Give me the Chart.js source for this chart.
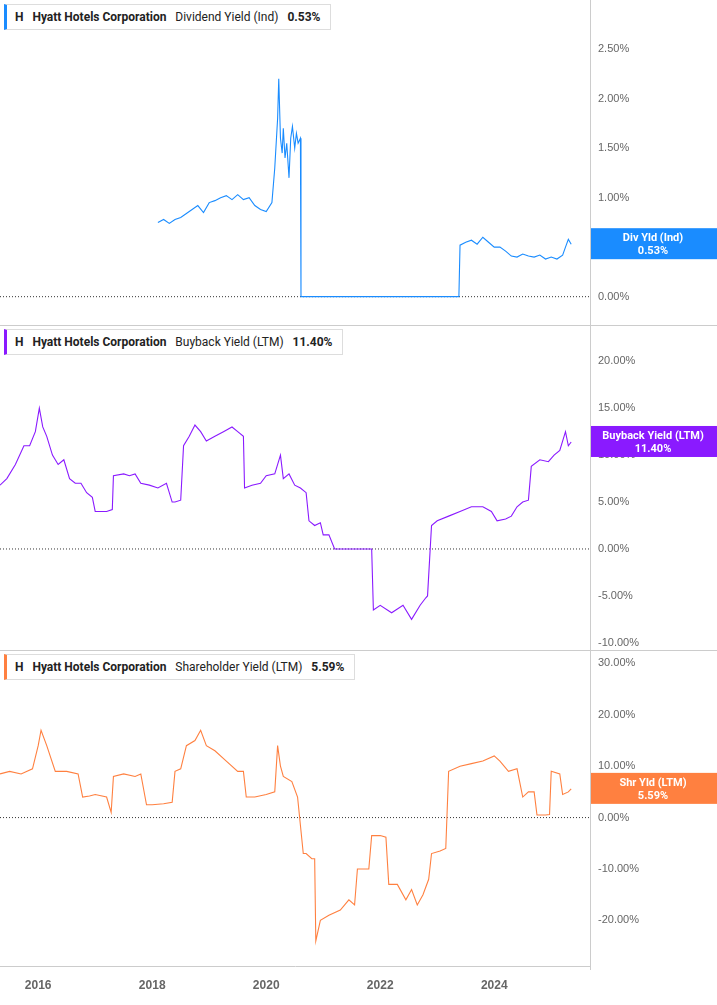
<!DOCTYPE html>
<html><head><meta charset="utf-8">
<script src="https://cdn.jsdelivr.net/npm/chart.js@4"></script>
<style>
body{margin:0;width:717px;height:1005px;background:#fff;font-family:Roboto,"Noto Sans",sans-serif;position:relative;overflow:hidden}
.p{position:absolute;left:0;width:717px}
.leg{position:absolute;left:4px;background:#fff;border:1px solid #ddd;border-left:3px solid;font-size:12px;padding:5px 10px 5px 8px;color:#222;white-space:nowrap;z-index:2}
.leg b{font-weight:700}
.sep{position:absolute;left:0;width:717px;height:1px;background:#ccc;z-index:3}
</style></head><body>
<div class="p" style="top:-14px;height:353px"><canvas id="c1"></canvas></div>
<div class="p" style="top:311px;height:353px"><canvas id="c2"></canvas></div>
<div class="p" style="top:636px;height:369px"><canvas id="c3"></canvas></div>
<div class="sep" style="top:325px"></div><div class="sep" style="top:650px"></div>
<div style="position:absolute;left:590px;top:0;width:1px;height:970px;background:#ccc;z-index:1"></div>
<div class="leg" style="top:4px;border-left-color:#1a8cff"><b>H</b>&nbsp;&nbsp;&nbsp;<b>Hyatt Hotels Corporation</b>&nbsp;&nbsp;&nbsp;Dividend Yield (Ind)&nbsp;&nbsp;&nbsp;<b>0.53%</b></div>
<div class="leg" style="top:329px;border-left-color:#8a1aff"><b>H</b>&nbsp;&nbsp;&nbsp;<b>Hyatt Hotels Corporation</b>&nbsp;&nbsp;&nbsp;Buyback Yield (LTM)&nbsp;&nbsp;&nbsp;<b>11.40%</b></div>
<div class="leg" style="top:654px;border-left-color:#ff8040"><b>H</b>&nbsp;&nbsp;&nbsp;<b>Hyatt Hotels Corporation</b>&nbsp;&nbsp;&nbsp;Shareholder Yield (LTM)&nbsp;&nbsp;&nbsp;<b>5.59%</b></div>
<script>
const divDates=[2018.1,2018.2,2018.3,2018.4,2018.5,2018.6,2018.7,2018.8,2018.9,2019.0,2019.1,2019.2,2019.3,2019.4,2019.5,2019.6,2019.7,2019.8,2019.9,2020.0,2020.1,2020.15,2020.2,2020.22,2020.25,2020.28,2020.3,2020.33,2020.36,2020.4,2020.43,2020.46,2020.5,2020.53,2020.56,2020.6,2020.61,2021.5,2022.5,2023.38,2023.4,2023.5,2023.6,2023.7,2023.8,2023.9,2024.0,2024.1,2024.2,2024.3,2024.4,2024.5,2024.6,2024.7,2024.8,2024.9,2025.0,2025.1,2025.2,2025.25,2025.3,2025.35];
const divVals=[0.75,0.78,0.74,0.78,0.8,0.84,0.88,0.92,0.85,0.95,0.97,1.0,1.02,0.98,1.03,0.98,1.0,0.92,0.88,0.86,0.95,1.3,1.8,2.2,1.6,1.45,1.7,1.4,1.55,1.2,1.6,1.72,1.5,1.65,1.55,1.6,0.0,0.0,0.0,0.0,0.52,0.55,0.57,0.53,0.6,0.55,0.5,0.5,0.46,0.41,0.4,0.43,0.41,0.4,0.42,0.38,0.4,0.38,0.42,0.5,0.58,0.53];
const bbDates=[2015.33,2015.45,2015.6,2015.75,2015.85,2015.95,2016.02,2016.08,2016.15,2016.25,2016.35,2016.45,2016.55,2016.65,2016.75,2016.85,2016.95,2017.0,2017.2,2017.3,2017.32,2017.5,2017.6,2017.7,2017.8,2017.95,2018.1,2018.25,2018.35,2018.4,2018.5,2018.55,2018.65,2018.75,2018.85,2018.95,2019.1,2019.25,2019.4,2019.5,2019.6,2019.62,2019.75,2019.9,2020.0,2020.15,2020.25,2020.3,2020.4,2020.5,2020.6,2020.7,2020.75,2020.85,2020.95,2021.0,2021.1,2021.2,2021.5,2021.85,2021.88,2022.0,2022.2,2022.4,2022.55,2022.7,2022.8,2022.83,2022.9,2023.0,2023.2,2023.4,2023.6,2023.8,2023.95,2024.05,2024.2,2024.3,2024.4,2024.5,2024.6,2024.65,2024.8,2024.95,2025.05,2025.15,2025.25,2025.3,2025.35];
const bbVals=[6.8,7.5,9,11,11,12.5,15,13,12,10,9,9.5,7.5,7,7,6,5.5,4,4,4.2,7.8,8,7.8,8,7,6.8,6.5,7,5,5,5.2,11,12,13.2,12.5,11.5,12,12.5,13,12.5,12,6.5,6.8,7,7.8,8,10,7.5,8,6.8,6.5,6,3,2.5,2.8,1.5,1.5,0,0,0,-6.5,-6,-6.8,-6,-7.5,-6,-5.2,-5,2.5,3,3.5,4,4.5,4.5,4,3,3.2,3.5,4.5,5,5.2,8.8,9.5,9.3,10,10.5,12.5,11,11.4];
const shDates=[2015.33,2015.5,2015.7,2015.9,2016.0,2016.05,2016.15,2016.3,2016.5,2016.7,2016.78,2016.9,2017.0,2017.2,2017.28,2017.32,2017.5,2017.7,2017.8,2017.9,2018.0,2018.2,2018.35,2018.4,2018.5,2018.6,2018.75,2018.85,2018.95,2019.1,2019.3,2019.5,2019.6,2019.65,2019.8,2020.0,2020.15,2020.2,2020.25,2020.3,2020.45,2020.55,2020.65,2020.7,2020.8,2020.85,2020.87,2020.95,2021.1,2021.3,2021.45,2021.55,2021.6,2021.8,2021.85,2022.0,2022.1,2022.15,2022.3,2022.45,2022.55,2022.65,2022.75,2022.85,2022.9,2023.05,2023.15,2023.2,2023.4,2023.6,2023.8,2024.0,2024.1,2024.25,2024.4,2024.5,2024.6,2024.7,2024.75,2024.9,2024.97,2025.0,2025.15,2025.2,2025.3,2025.35];
const shVals=[8.5,9,8.5,9.5,14,17,14,9,9,8.5,4,4.2,4.5,4,1,8,8.5,8,8.5,2.5,2.5,2.7,3,9,9.5,14,15,17,14,13,11,9,9,4,4,4.5,5,14,10,8,7,4,-7,-7,-8,-8,-24,-20,-19,-18,-16,-17,-10,-10,-3.5,-3.5,-3.8,-13,-13,-16,-14,-17,-15,-12,-7,-6.5,-6,9,10,10.5,11,12,11,9,9.5,4,5,5,0.5,0.5,0.6,9,8.5,4.5,5,5.6];

const XMIN=2015.33, XMAX=2025.68;
const pts=(d,v)=>d.map((x,i)=>({x,y:v[i]}));
const gray='#666';
function endLabel(color,l1,l2,val){return{id:'end',afterDraw(c){const y=c.scales.y.getPixelForValue(val);const ctx=c.ctx;ctx.save();ctx.fillStyle=color;ctx.fillRect(591,y-16,126,31);ctx.fillStyle='#fff';ctx.font='bold 11px Roboto';ctx.textAlign='center';ctx.fillText(l1,653,y-3);ctx.fillText(l2,653,y+10);ctx.restore();}}}
const zeroLine={id:'zero',beforeDatasetsDraw(c){const y=c.scales.y.getPixelForValue(0);const ctx=c.ctx;ctx.save();ctx.strokeStyle='#333';ctx.setLineDash([1,2]);ctx.beginPath();ctx.moveTo(0,y);ctx.lineTo(590,y);ctx.stroke();ctx.restore();}};
function make(id,d,v,color,ymin,ymax,step,showX,lbl){
 new Chart(document.getElementById(id),{type:'line',
 data:{datasets:[{data:pts(d,v),borderColor:color,borderWidth:1.1,pointRadius:0,tension:0}]},
 options:{responsive:true,maintainAspectRatio:false,animation:false,layout:{padding:0},
 plugins:{legend:{display:false},tooltip:{enabled:false}},
 scales:{x:{type:'linear',min:XMIN,max:XMAX,display:showX,grid:{display:false,drawTicks:false},border:{color:'#ccc'},
   afterBuildTicks(s){s.ticks=[2016,2018,2020,2022,2024].map(v=>({value:v}));},
   ticks:{color:gray,font:{size:12,weight:'bold'},padding:12,callback:v=>String(v)}},
  y:{position:'right',min:ymin,max:ymax,grid:{display:false,drawTicks:false},border:{display:false},
   afterFit(s){s.width=127;},
   afterBuildTicks(s){const t=[];for(let x=Math.ceil(ymin/step)*step;x<=ymax;x+=step)t.push({value:x});s.ticks=t;},
   ticks:{color:gray,font:{size:11},padding:8,callback:v=>v.toFixed(2)+'%'}}}},
 plugins:[zeroLine,lbl]});
}
make('c1',divDates,divVals,'#1a8cff',-0.28,2.99,0.5,false,endLabel('#1a8cff','Div Yld (Ind)','0.53%',0.53));
make('c2',bbDates,bbVals,'#8a1aff',-10.7,23.8,5,false,endLabel('#8a1aff','Buyback Yield (LTM)','11.40%',11.4));
make('c3',shDates,shVals,'#ff8040',-29,32.5,10,true,endLabel('#ff8040','Shr Yld (LTM)','5.59%',5.59));
</script></body></html>
